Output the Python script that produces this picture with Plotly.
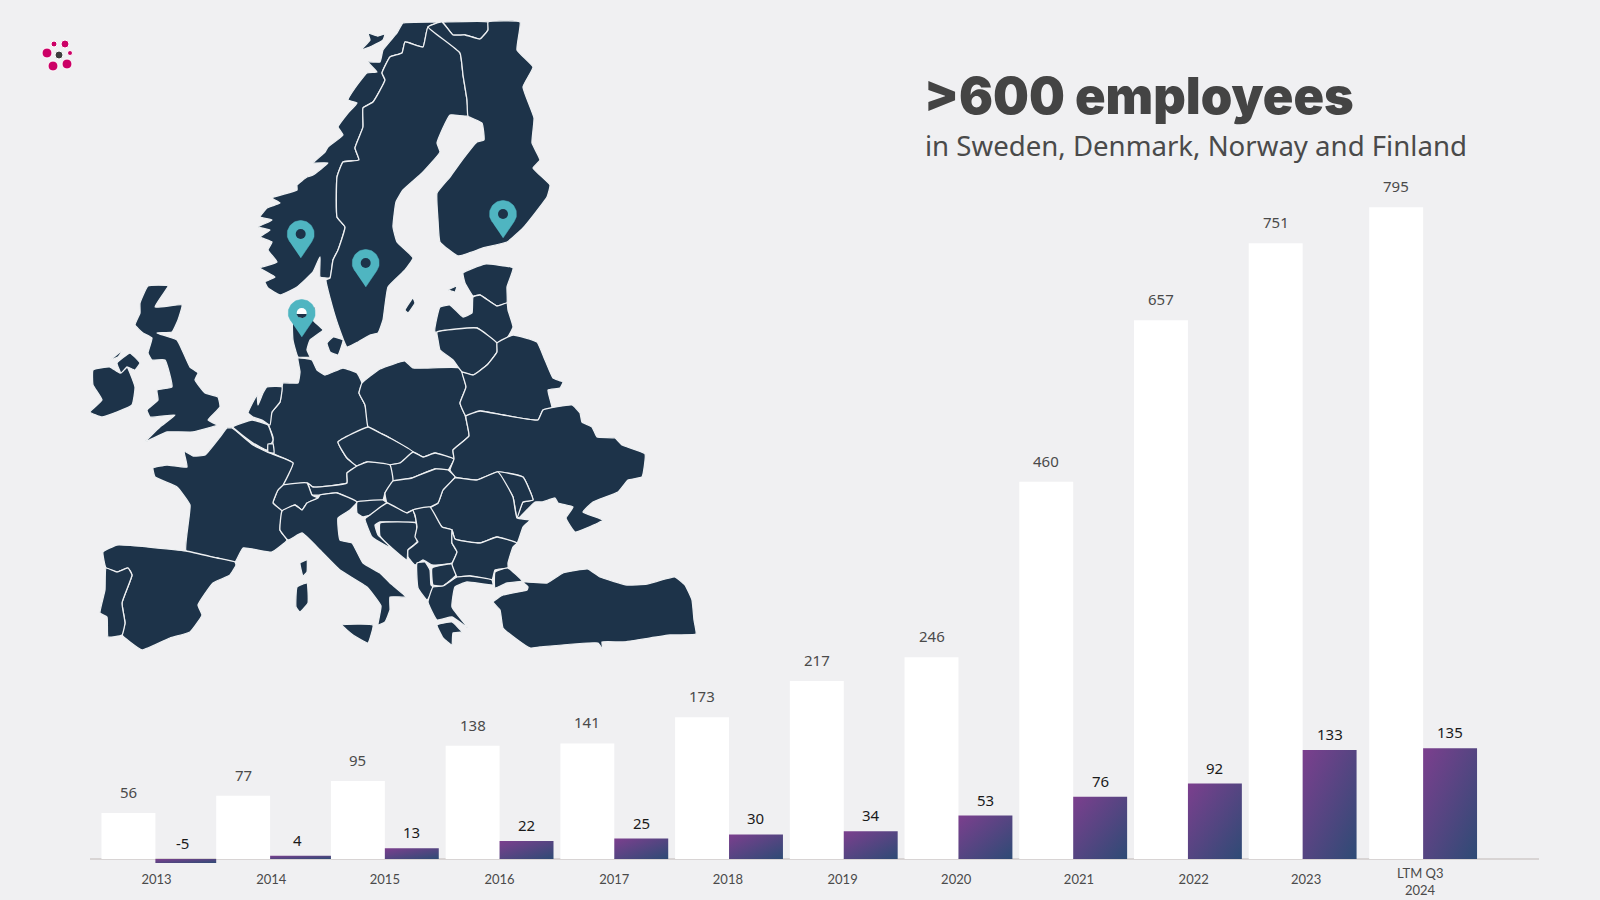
import numpy as np
import plotly.graph_objects as go

# ---------- chart data ----------
categories = ["2013","2014","2015","2016","2017","2018","2019","2020","2021","2022","2023","LTM Q3 2024"]
employees = [56,77,95,138,141,173,217,246,460,657,751,795]
ebit = [-5,4,13,22,25,30,34,53,76,92,133,135]

# ---------- map outlines (in picture pixels) ----------
norway=[(280,295),(268,288),(265,282),(275,277),(260,268),(277,262),(268,250),(272,242),(260,237),(270,230),(258,227),(272,220),(260,217),(267,208),(280,203),(272,198),(297,190),(297,185),(307,177),(313,175),(328,163),(313,163),(325,152),(328,147),(343,135),(338,127),(348,113),(357,103),(348,100),(355,88),(367,73),(377,72),(368,62),(380,62),(383,50),(397,33),(403,23),(442,22),(488,22),(488,30),(480,39),(465,35),(453,35),(442,22),(428,27),(423,47),(405,42),(402,53),(390,57),(382,73),(385,80),(373,102),(363,108),(363,127),(355,148),(359,160),(343,162),(337,177),(337,217),(345,227),(338,250),(333,260),(330,278),(320,277),(320,257),(313,272),(297,287)]
sweden=[(428,27),(460,53),(463,75),(467,100),(468,116),(450,115),(437,143),(440,152),(422,173),(403,190),(396,202),(393,227),(397,242),(413,258),(405,270),(388,287),(383,320),(378,333),(370,335),(358,342),(347,347),(338,325),(330,298),(326,280),(330,278),(333,260),(338,250),(345,227),(337,217),(337,177),(343,162),(359,160),(355,148),(363,127),(363,108),(373,102),(385,80),(382,73),(390,57),(402,53),(405,42),(423,47)]
finland=[(428,27),(442,22),(453,35),(465,35),(480,39),(488,30),(488,22),(520,22),(517,50),(533,67),(523,87),(534,118),(532,143),(540,160),(533,168),(550,185),(547,197),(523,228),(507,242),(483,248),(458,256),(440,242),(438,220),(437,193),(450,177),(460,163),(477,142),(484,140),(482,123),(468,116),(467,100),(463,75),(460,53)]
lofoten=[(361,50),(370,40),(368,33),(378,36),(385,34),(383,40),(372,46)]
jutland=[(293,316),(315,307),(313,320),(323,330),(310,340),(307,350),(310,357),(298,357),(293,340)]
zealand=[(327,343),(333,337),(343,340),(338,355),(330,352)]
germany=[(283,383),(298,383),(300,372),(298,358),(312,360),(317,370),(325,375),(343,368),(357,373),(362,383),(359,393),(365,405),(368,427),(338,442),(347,458),(357,466),(347,473),(347,483),(313,487),(307,483),(283,485),(293,463),(273,453),(273,437),(268,423),(272,412),(280,402),(282,387)]
poland=[(362,383),(380,369),(405,361),(413,368),(460,368),(466,387),(460,403),(465,415),(469,436),(453,450),(454,459),(435,453),(423,457),(413,452),(390,438),(380,433),(368,427),(365,405),(359,393)]
czechia=[(368,427),(380,433),(390,438),(413,452),(400,463),(390,465),(367,462),(357,466),(347,458),(338,442)]
slovakia=[(413,452),(423,457),(435,453),(454,459),(448,470),(435,469),(412,478),(393,481),(390,465),(400,463)]
austria=[(357,466),(367,462),(390,465),(393,481),(385,493),(383,500),(357,502),(337,493),(320,495),(312,495),(308,483),(313,487),(347,483),(347,473)]
switzerland=[(283,485),(307,483),(312,495),(318,498),(307,503),(302,510),(295,505),(282,511),(273,503),(278,490)]
france=[(227,428),(232,428),(253,445),(267,452),(293,463),(283,485),(278,490),(273,503),(282,511),(280,530),(287,540),(272,552),(243,548),(235,562),(217,558),(186,551),(190,505),(177,487),(155,477),(153,468),(167,465),(187,467),(184,451),(193,456),(205,455),(220,437)]
spain=[(103,552),(117,545),(186,551),(217,558),(235,562),(236,565),(230,575),(213,583),(198,605),(202,615),(190,632),(170,638),(142,650),(130,642),(122,635),(125,623),(122,603),(132,575),(128,568),(117,572),(106,568)]
portugal=[(106,568),(117,572),(128,568),(132,575),(122,603),(125,623),(122,635),(108,637),(107,617),(100,613),(105,590)]
britain=[(148,286),(168,286),(155,307),(182,305),(178,320),(172,332),(157,333),(177,340),(190,367),(198,373),(195,380),(205,393),(218,397),(220,407),(208,420),(217,425),(193,432),(167,432),(145,442),(160,427),(175,415),(150,417),(147,410),(158,400),(157,390),(172,387),(165,360),(152,360),(148,353),(152,338),(143,333),(135,325),(140,313),(140,303)]
ireland=[(93,370),(110,367),(120,373),(127,367),(135,387),(132,405),(102,417),(90,412),(102,400),(93,385)]
ulster=[(117,363),(130,353),(140,363),(135,370),(127,367),(121,373)]
hebrides=[(110,360),(123,350),(118,357)]
netherlands=[(248,413),(257,395),(258,405),(263,393),(267,387),(282,387),(280,402),(272,412),(270,425),(262,420),(253,417)]
belgium=[(233,427),(252,420),(268,425),(273,440),(267,450),(253,443)]
luxembourg=[(268,444),(273,444),(274,453),(268,452)]
italy=[(282,511),(295,505),(302,510),(307,503),(318,498),(320,495),(337,493),(357,502),(350,510),(338,518),(340,540),(352,543),(363,563),(380,573),(390,583),(406,597),(390,597),(390,610),(385,622),(378,625),(381,606),(367,587),(340,570),(320,550),(302,533),(288,540),(280,530)]
sicily=[(342,625),(373,625),(368,643),(353,635)]
sardinia=[(297,587),(307,583),(308,603),(300,612),(296,607)]
corsica=[(300,563),(307,560),(307,572),(303,576)]
estonia=[(463,273),(485,264),(513,268),(507,287),(507,303),(497,306),(480,295),(473,296),(465,283)]
saaremaa=[(448,290),(457,286),(455,292)]
gotland=[(405,310),(413,298),(415,303),(408,313)]
latvia=[(435,332),(440,307),(450,305),(463,317),(472,313),(473,297),(480,295),(497,306),(507,303),(508,310),(513,327),(507,338),(497,343),(477,328)]
lithuania=[(438,340),(437,332),(477,328),(497,343),(497,352),(487,365),(473,375),(462,372),(453,360),(440,350)]
belarus=[(497,343),(513,335),(537,342),(545,360),(553,378),(563,382),(560,388),(548,390),(552,408),(543,410),(538,420),(503,415),(480,411),(466,416),(460,403),(466,387),(462,372),(473,375),(487,365),(497,352)]
ukraine=[(466,416),(480,411),(503,415),(538,420),(543,410),(572,405),(580,413),(582,422),(592,427),(597,437),(615,438),(622,445),(645,454),(642,477),(628,480),(618,492),(593,502),(583,512),(603,520),(598,523),(575,532),(566,518),(573,507),(558,503),(555,498),(542,502),(535,502),(520,517),(517,518),(523,502),(533,500),(523,477),(498,472),(477,480),(455,477),(450,470),(454,459),(453,450),(469,436)]
moldova=[(498,472),(523,477),(533,500),(523,502),(517,518),(513,497)]
romania=[(455,478),(477,480),(498,472),(513,497),(517,518),(530,520),(523,527),(517,543),(497,537),(480,543),(455,539),(452,530),(442,527),(430,508),(438,503),(443,490)]
hungary=[(393,481),(412,478),(435,469),(448,470),(455,477),(443,490),(438,503),(430,507),(413,510),(407,513),(387,503),(385,493)]
slovenia=[(357,502),(383,500),(387,503),(370,515),(363,517),(357,513)]
croatia=[(370,515),(387,503),(407,513),(413,510),(416,522),(395,522),(380,522),(375,525),(378,535),(392,548),(385,545),(372,537),(365,519)]
bosnia=[(380,523),(416,523),(417,535),(417,542),(408,550),(407,560),(393,549),(380,536)]
serbia=[(413,510),(430,507),(442,527),(452,530),(452,543),(457,552),(452,563),(432,565),(423,560),(415,565),(408,557),(408,550),(418,542),(415,537),(417,527),(415,515)]
albania=[(417,563),(425,562),(430,570),(431,585),(434,588),(427,600),(418,588)]
macedonia=[(432,568),(452,564),(456,575),(443,586),(433,585)]
bulgaria=[(452,530),(455,539),(480,543),(497,537),(517,543),(513,547),(508,563),(508,568),(495,570),(492,580),(470,576),(457,577),(456,575),(452,564),(457,552),(452,543)]
greece=[(433,587),(443,586),(457,577),(470,576),(492,580),(493,585),(467,582),(455,587),(452,607),(468,628),(452,617),(437,620),(428,602)]
peloponnese=[(437,625),(452,622),(462,632),(453,633),(452,645),(443,638)]
thrace=[(495,572),(508,568),(522,581),(507,583),(495,588)]
turkey=[(523,582),(547,583),(563,573),(588,569),(600,577),(627,585),(647,584),(675,577),(685,585),(692,600),(694,620),(696,634),(670,635),(623,642),(602,642),(603,650),(598,643),(540,647),(530,648),(515,638),(503,628),(500,610),(493,602),(503,595),(527,590),(528,587)]

countries=[norway,sweden,finland,lofoten,jutland,zealand,germany,poland,czechia,slovakia,austria,switzerland,france,spain,portugal,britain,ireland,ulster,hebrides,netherlands,belgium,luxembourg,italy,sicily,sardinia,corsica,estonia,saaremaa,gotland,latvia,lithuania,belarus,ukraine,moldova,romania,hungary,slovenia,croatia,bosnia,serbia,albania,macedonia,bulgaria,greece,peloponnese,thrace,turkey]

pin_x=[300.7,365.7,503,301.7]
pin_tip_y=[258,287,238,337]

logo_x=[54,65,47,59,70,53,67]
logo_y=[44,44,53,55,53,66,64]
logo_size=[6,8,10,8,5,10,10]
logo_colors=["#cc0066","#cc0066","#cc0066","#3d3d3d","#cc0066","#cc0066","#cc0066"]

NAVY="#1d3349"; BG="#f0f0f2"; TEAL="#4fb5c1"
fig=go.Figure()

# bars
n=len(categories)
xs=list(range(n))
BW=0.47
nudge=[0]*(n-1)+[0.05]
tick_nudge=[0.01,0.01,0,0,0,-0.01,-0.01,-0.02,0.05,0.05,0.03]
fig.add_bar(x=xs,y=employees,width=BW,offset=[-BW+d for d in nudge],marker=dict(color="#ffffff",line_width=0),hoverinfo="skip",showlegend=False)
fig.add_bar(x=xs,y=ebit,width=[0.53,0.53]+[BW]*(n-2),offset=nudge,marker=dict(color="#5a4380",line_width=0),hoverinfo="skip",showlegend=False)

# map
for poly in countries:
    px=[p[0] for p in poly]+[poly[0][0]]
    py=[p[1] for p in poly]+[poly[0][1]]
    fig.add_scatter(x=px,y=py,xaxis="x2",yaxis="y2",mode="lines",fill="toself",fillcolor=NAVY,
                    line=dict(color="#eef0f2",width=1.3,shape="spline",smoothing=0.35),hoverinfo="skip",showlegend=False)

# pins
t=np.radians(np.linspace(-215,35,50))
for i,(cx,tip) in enumerate(zip(pin_x,pin_tip_y)):
    r=13.5; cy=tip-24
    xx=list(cx+r*np.cos(t))+[cx]
    yy=list(cy+r*np.sin(t))+[tip]
    fig.add_scatter(x=xx,y=yy,xaxis="x2",yaxis="y2",mode="lines",fill="toself",fillcolor=TEAL,line=dict(color=TEAL,width=0.5),hoverinfo="skip",showlegend=False)
    fig.add_scatter(x=[cx],y=[cy],xaxis="x2",yaxis="y2",mode="markers",
                    marker=dict(size=10,color="#ffffff" if i==3 else NAVY),hoverinfo="skip",showlegend=False)
    if i==3:
        h=np.radians(np.linspace(0,180,20))
        fig.add_scatter(x=list(cx+5*np.cos(h)),y=list(cy+1+4*np.sin(h)),xaxis="x2",yaxis="y2",mode="lines",fill="toself",fillcolor=NAVY,line=dict(color=NAVY,width=0),hoverinfo="skip",showlegend=False)

# logo
fig.add_scatter(x=logo_x,y=logo_y,xaxis="x2",yaxis="y2",mode="markers",marker=dict(size=logo_size,color=logo_colors,opacity=1),hoverinfo="skip",showlegend=False)

ann=[]
for i in xs:
    ann.append(dict(x=i-BW/2+nudge[i],y=employees[i],xref="x",yref="y",text=str(employees[i]),showarrow=False,yshift=21,
                    font=dict(family="Noto Sans",size=15,color="#4a4a4a")))
    ann.append(dict(x=i+BW/2+nudge[i],y=max(ebit[i],0),xref="x",yref="y",text=str(ebit[i]),showarrow=False,yshift=16,
                    font=dict(family="Noto Sans",size=15,color="#1a1a1a")))
ann.append(dict(x=922,y=95,xref="x2",yref="y2",xanchor="left",text=">600 employees",showarrow=False,
                font=dict(family="Inter",size=50.5,color="#444444",weight=900)))
ann.append(dict(x=923,y=145,xref="x2",yref="y2",xanchor="left",text="in Sweden, Denmark, Norway and Finland",showarrow=False,
                font=dict(family="Noto Sans",size=27.6,color="#4a4a4a")))
ann.append(dict(x=1420,y=873,xref="x2",yref="y2",text="LTM Q3",showarrow=False,font=dict(family="Lato",size=13,color="#4a4a4a")))
ann.append(dict(x=1420,y=890,xref="x2",yref="y2",text="2024",showarrow=False,font=dict(family="Lato",size=13,color="#4a4a4a")))

fig.update_layout(
    width=1600,height=900,margin=dict(l=0,r=0,t=0,b=0),
    paper_bgcolor=BG,plot_bgcolor="rgba(0,0,0,0)",barmode="overlay",showlegend=False,annotations=ann,
    xaxis=dict(domain=[90/1600,1539/1600],range=[-0.57,12.06],tickmode="array",
               tickvals=[x+d for x,d in zip(xs[:-1],tick_nudge)],ticktext=categories[:-1],
               showgrid=False,showline=False,zeroline=False,ticks="",tickfont=dict(family="Lato",size=13,color="#4a4a4a")),
    yaxis=dict(domain=[1-870/900,1],range=[-13.4,1047.6],showgrid=False,showticklabels=False,ticks="",
               zeroline=True,zerolinecolor="#d8d4d4",zerolinewidth=2,showline=False),
    xaxis2=dict(domain=[0,1],range=[0,1600],visible=False,anchor="y2",fixedrange=True),
    yaxis2=dict(domain=[0,1],range=[900,0],visible=False,anchor="x2",fixedrange=True),
)

post = """
document.body.style.margin='0';
document.documentElement.style.background='#f0f0f2';
document.documentElement.style.overflow='hidden';
var gd=document.querySelector('.plotly-graph-div');
function paint(){
  var svg=gd.querySelector('svg.main-svg');
  if(!document.getElementById('barGrad')){
    var ns='http://www.w3.org/2000/svg',d=document.createElementNS(ns,'defs'),g=document.createElementNS(ns,'linearGradient');
    g.id='barGrad';g.setAttribute('x1','0');g.setAttribute('y1','0');g.setAttribute('x2','1');g.setAttribute('y2','1');
    [['0','#7c3f8e'],['1','#2e4b75']].forEach(function(s){var e=document.createElementNS(ns,'stop');e.setAttribute('offset',s[0]);e.setAttribute('stop-color',s[1]);g.appendChild(e);});
    d.appendChild(g);svg.insertBefore(d,svg.firstChild);
  }
  var tr=gd.querySelectorAll('.barlayer .trace');
  if(tr.length>1){tr[1].querySelectorAll('path').forEach(function(p){p.style.fill='url(#barGrad)';});}
}
paint();gd.on('plotly_afterplot',paint);
"""
fig.write_html("out.html",post_script=post,config={"displayModeBar":False})
